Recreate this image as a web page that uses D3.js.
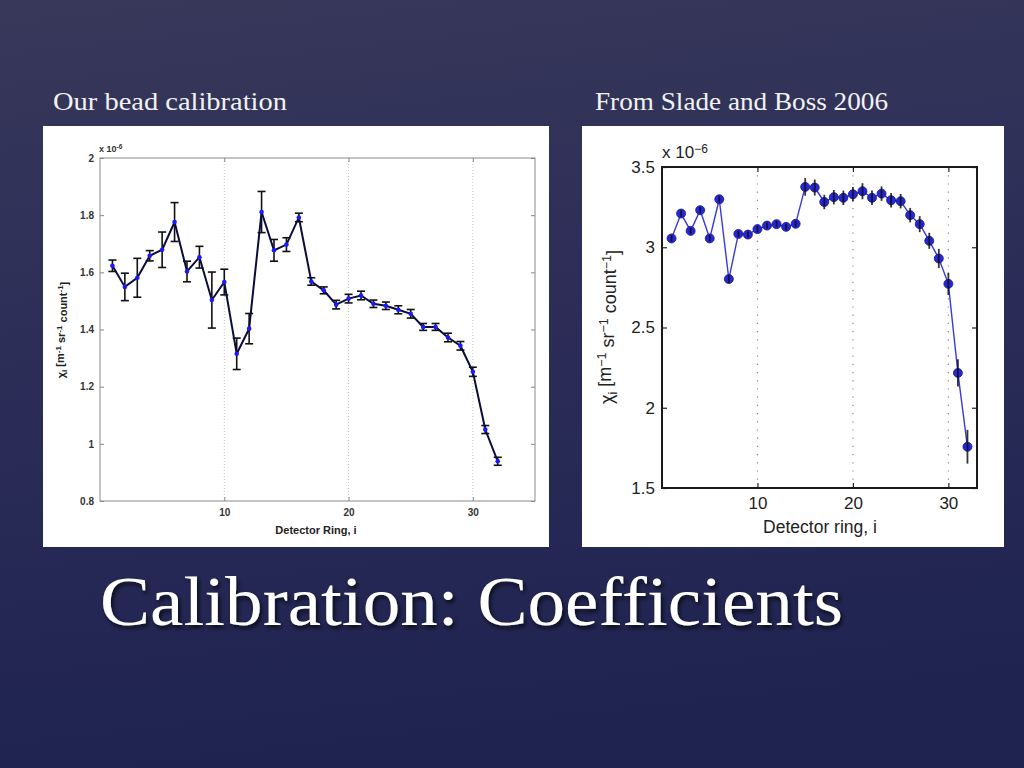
<!DOCTYPE html>
<html>
<head>
<meta charset="utf-8">
<script src="https://cdn.jsdelivr.net/npm/d3@7"></script>
<style>
  body { margin: 0; background: #2a2b55; }
  svg { display: block; }
</style>
</head>
<body>
<svg id="slide" width="1024" height="768"></svg>
<script>
// detector rings 1..32
const rings = d3.range(1, 33);

// our bead calibration (x 1e-6)
const beadValues = [1.623, 1.549, 1.581, 1.658, 1.679, 1.776, 1.603, 1.653, 1.503, 1.566,
    1.315, 1.403, 1.811, 1.677, 1.697, 1.792, 1.568, 1.537, 1.487, 1.508,
    1.519, 1.490, 1.483, 1.469, 1.455, 1.409, 1.409, 1.372, 1.343, 1.252,
    1.050, 0.939];
const beadErrors = [0.020, 0.048, 0.068, 0.018, 0.062, 0.068, 0.036, 0.038, 0.098, 0.045,
    0.055, 0.053, 0.072, 0.038, 0.024, 0.015, 0.013, 0.012, 0.015, 0.015,
    0.015, 0.013, 0.013, 0.014, 0.015, 0.012, 0.012, 0.015, 0.015, 0.016,
    0.014, 0.014];

// Slade and Boss 2006 (x 1e-6)
const sladeValues = [3.055, 3.210, 3.102, 3.231, 3.055, 3.299, 2.802, 3.083, 3.079, 3.113,
    3.135, 3.144, 3.127, 3.146, 3.376, 3.372, 3.282, 3.312, 3.308, 3.330,
    3.349, 3.308, 3.334, 3.293, 3.287, 3.200, 3.144, 3.040, 2.930, 2.772,
    2.217, 1.757];
const sladeErrors = [0.02, 0.02, 0.02, 0.02, 0.02, 0.02, 0.025, 0.02, 0.02, 0.02,
    0.02, 0.02, 0.02, 0.02, 0.055, 0.05, 0.045, 0.045, 0.045, 0.045,
    0.05, 0.045, 0.045, 0.045, 0.045, 0.045, 0.05, 0.05, 0.06, 0.07,
    0.085, 0.105];

const xTicks = [10, 20, 30];
const beadYTicks = [0.8, 1, 1.2, 1.4, 1.6, 1.8, 2];
const sladeYTicks = [1.5, 2, 2.5, 3, 3.5];

const svg = d3.select("#slide");
const defs = svg.append("defs");

const bg = defs.append("linearGradient")
    .attr("id", "bg-grad")
    .attr("x1", 0).attr("y1", 0).attr("x2", 0.15).attr("y2", 1);
bg.append("stop").attr("offset", "0%").attr("stop-color", "#38385a");
bg.append("stop").attr("offset", "45%").attr("stop-color", "#2c2e58");
bg.append("stop").attr("offset", "100%").attr("stop-color", "#1f2350");

const shadow = defs.append("filter").attr("id", "title-shadow")
    .attr("x", "-5%").attr("y", "-20%").attr("width", "110%").attr("height", "140%");
shadow.append("feDropShadow")
    .attr("dx", 2).attr("dy", 3).attr("stdDeviation", 2)
    .attr("flood-color", "#000").attr("flood-opacity", 0.7);

svg.append("rect").attr("width", 1024).attr("height", 768).attr("fill", "url(#bg-grad)");

// slide texts
svg.append("text")
    .attr("x", 53).attr("y", 110)
    .attr("font-family", "'Liberation Serif', 'DejaVu Serif', serif")
    .attr("font-size", 25)
    .attr("fill", "#f2f2f2")
    .attr("textLength", 234).attr("lengthAdjust", "spacingAndGlyphs")
    .text("Our bead calibration");

svg.append("text")
    .attr("x", 595).attr("y", 110)
    .attr("font-family", "'Liberation Serif', 'DejaVu Serif', serif")
    .attr("font-size", 25)
    .attr("fill", "#f2f2f2")
    .attr("textLength", 293).attr("lengthAdjust", "spacingAndGlyphs")
    .text("From Slade and Boss 2006");

svg.append("text")
    .attr("x", 100).attr("y", 625)
    .attr("font-family", "'Liberation Serif', 'DejaVu Serif', serif")
    .attr("font-size", 70)
    .attr("fill", "#ffffff")
    .attr("filter", "url(#title-shadow)")
    .attr("textLength", 743).attr("lengthAdjust", "spacingAndGlyphs")
    .text("Calibration: Coefficients");

// helper for labels with sub/superscripts
const richText = (sel, parts, small) => {
    let shift = 0;
    parts.forEach(([t, kind]) => {
        const want = kind === "sup" ? -0.45 : kind === "sub" ? 0.3 : 0;
        const ts = sel.append("tspan").text(t);
        if (want !== shift) ts.attr("dy", `${want - shift}em`);
        if (kind) ts.attr("font-size", small);
        shift = want;
    });
};

const yLabelParts = [["χ", null], ["i", "sub"], [" [m", null], ["−1", "sup"], [" sr", null],
    ["−1", "sup"], [" count", null], ["−1", "sup"], ["]", null]];

// ---------- left chart: our bead calibration ----------
const left = { x: 43, y: 126, w: 506, h: 421, l: 100, r: 535, t: 158, b: 501 };

svg.append("rect")
    .attr("x", left.x).attr("y", left.y).attr("width", left.w).attr("height", left.h)
    .attr("fill", "#ffffff");

const xL = d3.scaleLinear().domain([0, 35]).range([left.l, left.r]);
const yL = d3.scaleLinear().domain([0.8, 2]).range([left.b, left.t]);

const gL = svg.append("g");

gL.selectAll(".grid")
    .data(xTicks)
    .join("line")
    .attr("x1", d => xL(d)).attr("x2", d => xL(d))
    .attr("y1", left.t).attr("y2", left.b)
    .attr("stroke", "#c8c8c8").attr("stroke-width", 1)
    .attr("stroke-dasharray", "1,2");

const styleLeftAxis = (g) => {
    g.select(".domain").remove();
    g.selectAll(".tick line").attr("stroke", "#888");
    g.selectAll(".tick text")
        .attr("font-family", "Arial, 'Liberation Sans', sans-serif")
        .attr("font-size", 10).attr("font-weight", "bold").attr("fill", "#333");
};

gL.append("g").attr("transform", `translate(0,${left.b})`)
    .call(d3.axisBottom(xL).tickValues(xTicks).tickSize(-4).tickPadding(8))
    .call(styleLeftAxis);
gL.append("g").attr("transform", `translate(0,${left.t})`)
    .call(d3.axisTop(xL).tickValues(xTicks).tickSize(-4).tickFormat(""))
    .call(styleLeftAxis);
gL.append("g").attr("transform", `translate(${left.l},0)`)
    .call(d3.axisLeft(yL).tickValues(beadYTicks).tickSize(-4).tickPadding(6).tickFormat(d3.format("~g")))
    .call(styleLeftAxis);
gL.append("g").attr("transform", `translate(${left.r},0)`)
    .call(d3.axisRight(yL).tickValues(beadYTicks).tickSize(-4).tickFormat(""))
    .call(styleLeftAxis);

gL.append("rect")
    .attr("x", left.l).attr("y", left.t)
    .attr("width", left.r - left.l).attr("height", left.b - left.t)
    .attr("fill", "none").attr("stroke", "#8a8a8a").attr("stroke-width", 1);

const beadData = rings.map((r, i) => ({ r, v: beadValues[i], e: beadErrors[i] }));

// error bars
const ebL = gL.append("g").attr("stroke", "#111").attr("stroke-width", 1.6);
ebL.selectAll(".stem").data(beadData).join("line")
    .attr("x1", d => xL(d.r)).attr("x2", d => xL(d.r))
    .attr("y1", d => yL(d.v - d.e)).attr("y2", d => yL(d.v + d.e));
ebL.selectAll(".cap-top").data(beadData).join("line")
    .attr("x1", d => xL(d.r) - 4).attr("x2", d => xL(d.r) + 4)
    .attr("y1", d => yL(d.v + d.e)).attr("y2", d => yL(d.v + d.e));
ebL.selectAll(".cap-bot").data(beadData).join("line")
    .attr("x1", d => xL(d.r) - 4).attr("x2", d => xL(d.r) + 4)
    .attr("y1", d => yL(d.v - d.e)).attr("y2", d => yL(d.v - d.e));

gL.append("path")
    .datum(beadData)
    .attr("fill", "none").attr("stroke", "#0c0c3a").attr("stroke-width", 2)
    .attr("d", d3.line().x(d => xL(d.r)).y(d => yL(d.v)));

gL.selectAll(".dot").data(beadData).join("circle")
    .attr("cx", d => xL(d.r)).attr("cy", d => yL(d.v)).attr("r", 2.3)
    .attr("fill", "#1a1aff");

// exponent label
const expL = gL.append("text")
    .attr("x", left.l - 1).attr("y", 152)
    .attr("font-family", "Arial, 'Liberation Sans', sans-serif")
    .attr("font-size", 9).attr("font-weight", "bold").attr("fill", "#333");
richText(expL, [["x 10", null], ["-6", "sup"]], 6.5);

gL.append("text")
    .attr("x", 316).attr("y", 534)
    .attr("text-anchor", "middle")
    .attr("font-family", "Arial, 'Liberation Sans', sans-serif")
    .attr("font-size", 11).attr("font-weight", "bold").attr("fill", "#222")
    .text("Detector Ring, i");

const yLabL = gL.append("text")
    .attr("transform", "translate(65,330) rotate(-90)")
    .attr("text-anchor", "middle")
    .attr("font-family", "Arial, 'Liberation Sans', sans-serif")
    .attr("font-size", 11).attr("font-weight", "bold").attr("fill", "#222");
richText(yLabL, yLabelParts.map(([t, k]) => [t.replace("−", "-"), k]), 8);

// ---------- right chart: Slade and Boss 2006 ----------
const right = { x: 582, y: 126, w: 422, h: 421, l: 662, r: 977, t: 167, b: 488 };

svg.append("rect")
    .attr("x", right.x).attr("y", right.y).attr("width", right.w).attr("height", right.h)
    .attr("fill", "#ffffff");

const xR = d3.scaleLinear().domain([0, 33]).range([right.l, right.r]);
const yR = d3.scaleLinear().domain([1.5, 3.5]).range([right.b, right.t]);

const gR = svg.append("g");

gR.selectAll(".grid")
    .data(xTicks)
    .join("line")
    .attr("x1", d => xR(d)).attr("x2", d => xR(d))
    .attr("y1", right.t).attr("y2", right.b)
    .attr("stroke", "#8c8c8c").attr("stroke-width", 1.2)
    .attr("stroke-dasharray", "1.2,7");

const styleRightAxis = (g) => {
    g.select(".domain").remove();
    g.selectAll(".tick line").attr("stroke", "#222").attr("stroke-width", 1.2);
    g.selectAll(".tick text")
        .attr("font-family", "Arial, 'Liberation Sans', sans-serif")
        .attr("font-size", 17).attr("fill", "#222");
};

gR.append("g").attr("transform", `translate(0,${right.b})`)
    .call(d3.axisBottom(xR).tickValues(xTicks).tickSize(-5).tickPadding(9))
    .call(styleRightAxis);
gR.append("g").attr("transform", `translate(0,${right.t})`)
    .call(d3.axisTop(xR).tickValues(xTicks).tickSize(-5).tickFormat(""))
    .call(styleRightAxis);
gR.append("g").attr("transform", `translate(${right.l},0)`)
    .call(d3.axisLeft(yR).tickValues(sladeYTicks).tickSize(-5).tickPadding(7).tickFormat(d3.format("~g")))
    .call(styleRightAxis);
gR.append("g").attr("transform", `translate(${right.r},0)`)
    .call(d3.axisRight(yR).tickValues(sladeYTicks).tickSize(-5).tickFormat(""))
    .call(styleRightAxis);

gR.append("rect")
    .attr("x", right.l).attr("y", right.t)
    .attr("width", right.r - right.l).attr("height", right.b - right.t)
    .attr("fill", "none").attr("stroke", "#1a1a1a").attr("stroke-width", 2);

const sladeData = rings.map((r, i) => ({ r, v: sladeValues[i], e: sladeErrors[i] }));

gR.append("path")
    .datum(sladeData)
    .attr("fill", "none").attr("stroke", "#3838e0").attr("stroke-width", 1.4)
    .attr("d", d3.line().x(d => xR(d.r)).y(d => yR(d.v)));

gR.selectAll(".dot").data(sladeData).join("circle")
    .attr("cx", d => xR(d.r)).attr("cy", d => yR(d.v)).attr("r", 4.5)
    .attr("fill", "#2626d8").attr("stroke", "#16168a").attr("stroke-width", 0.8);

gR.selectAll(".err").data(sladeData).join("line")
    .attr("x1", d => xR(d.r)).attr("x2", d => xR(d.r))
    .attr("y1", d => yR(d.v - d.e)).attr("y2", d => yR(d.v + d.e))
    .attr("stroke", "#111").attr("stroke-width", 1.8).attr("stroke-opacity", 0.85);

const expR = gR.append("text")
    .attr("x", right.l).attr("y", 158)
    .attr("font-family", "Arial, 'Liberation Sans', sans-serif")
    .attr("font-size", 17).attr("fill", "#222");
richText(expR, [["x 10", null], ["−6", "sup"]], 12);

gR.append("text")
    .attr("x", 820).attr("y", 533)
    .attr("text-anchor", "middle")
    .attr("font-family", "Arial, 'Liberation Sans', sans-serif")
    .attr("font-size", 17.5).attr("fill", "#222")
    .text("Detector ring, i");

const yLabR = gR.append("text")
    .attr("transform", "translate(613,327) rotate(-90)")
    .attr("text-anchor", "middle")
    .attr("font-family", "Arial, 'Liberation Sans', sans-serif")
    .attr("font-size", 18).attr("fill", "#222");
richText(yLabR, yLabelParts, 12.5);
</script>
</body>
</html>
